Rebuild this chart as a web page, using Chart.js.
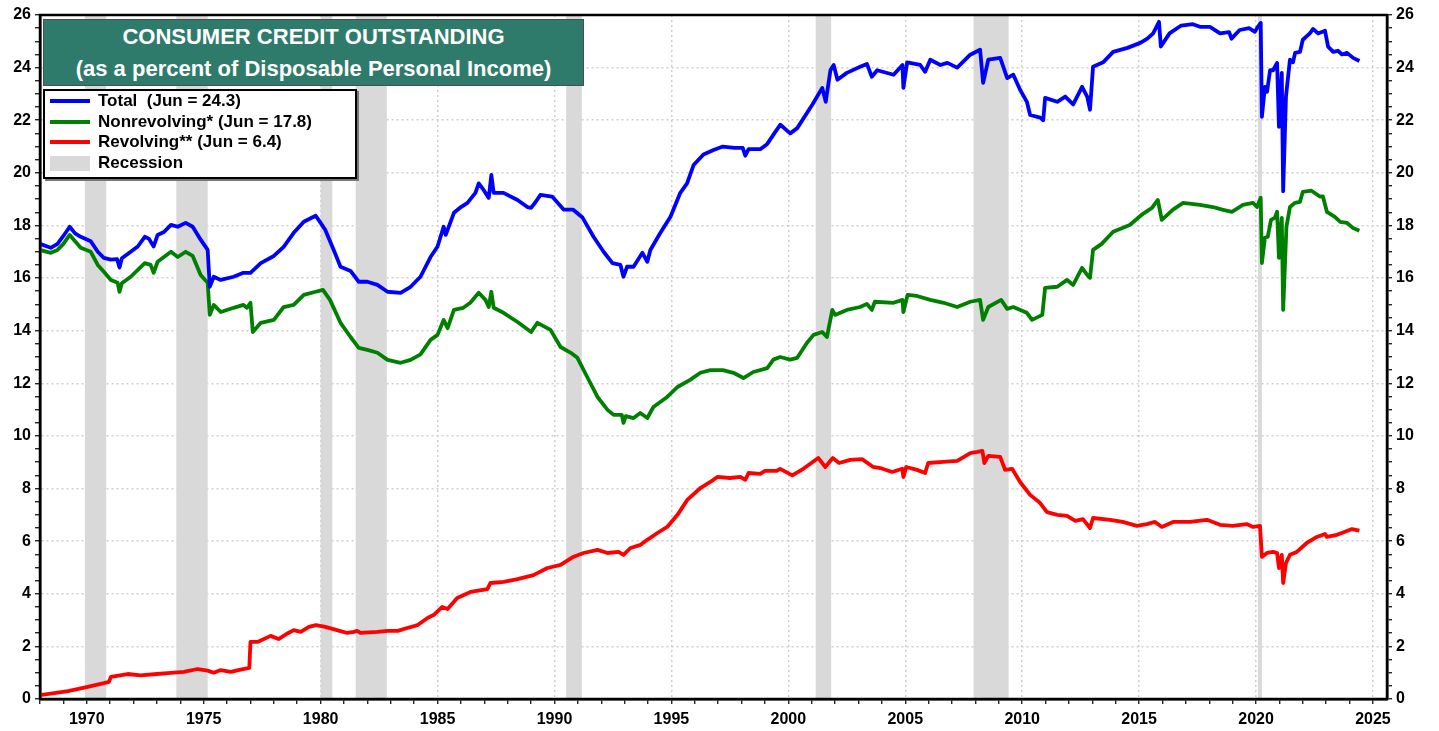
<!DOCTYPE html>
<html>
<head>
<meta charset="utf-8">
<script src="https://cdn.jsdelivr.net/npm/chart.js@4.4.1/dist/chart.umd.min.js"></script>
<style>
  html, body { margin:0; padding:0; background:#fff; }
  #wrap { position:relative; width:1439px; height:731px; font-family:"Liberation Sans", Arial, sans-serif; }
  #titleBox { position:absolute; left:43px; top:19px; width:539px; height:65px; background:#2e7b6c;
    border:1px solid #4d4d4d; color:#fff; font-weight:bold; font-size:22px; text-align:center; }
  #titleBox div { height:32px; line-height:34px; }
  #legendBox { position:absolute; left:43px; top:89px; width:310px; height:86px; background:#fff;
    border:2px solid #000; box-shadow:2px 2px 0 #777; font-weight:bold; font-size:17px; color:#000; }
  .row { position:relative; height:20.5px; line-height:20.5px; padding-left:53px; white-space:pre; }
  .row .sw { position:absolute; left:5px; top:8px; width:40px; height:4px; }
  .row .sw.rec { top:3px; height:15px; }
</style>
</head>
<body>
<div id="wrap">
  <canvas id="myChart" width="1439" height="731"></canvas>
  <div id="titleBox">
    <div>CONSUMER CREDIT OUTSTANDING</div>
    <div>(as a percent of Disposable Personal Income)</div>
  </div>
  <div id="legendBox"></div>
</div>
<script>
// 총 소비자신용 (가처분소득 대비 %)
const totalYears = [1968.0,1968.46,1968.75,1969.0,1969.27,1969.5,1969.74,1970.17,1970.47,1970.73,1971.03,1971.3,1971.4,1971.5,1971.88,1972.18,1972.48,1972.65,1972.86,1973.03,1973.3,1973.6,1973.89,1974.23,1974.53,1974.87,1975.17,1975.26,1975.43,1975.73,1976.28,1976.7,1977.0,1977.44,1978.0,1978.42,1978.85,1979.28,1979.79,1980.0,1980.2,1980.56,1980.85,1981.28,1981.63,1982.0,1982.43,1982.86,1983.42,1983.85,1984.27,1984.7,1985.0,1985.26,1985.35,1985.7,1986.0,1986.28,1986.62,1986.76,1986.97,1987.19,1987.3,1987.4,1987.82,1988.42,1988.84,1989.0,1989.2,1989.4,1989.9,1990.4,1990.8,1991.2,1991.67,1992.1,1992.48,1992.82,1992.95,1993.1,1993.38,1993.76,1993.97,1994.1,1994.53,1994.96,1995.38,1995.67,1995.95,1996.37,1996.8,1997.2,1997.7,1998.05,1998.16,1998.3,1998.8,1999.1,1999.4,1999.66,2000.08,2000.38,2001.03,2001.45,2001.6,2001.8,2001.94,2002.1,2002.5,2003.07,2003.36,2003.57,2003.8,2004.5,2004.88,2004.92,2005.08,2005.64,2005.85,2006.07,2006.5,2006.8,2007.22,2007.78,2008.2,2008.33,2008.55,2009.06,2009.36,2009.62,2009.91,2010.2,2010.34,2010.77,2010.9,2010.98,2011.5,2011.84,2012.18,2012.56,2012.78,2012.9,2013.03,2013.46,2013.89,2014.5,2015.05,2015.35,2015.6,2015.85,2015.93,2016.3,2016.8,2017.3,2017.6,2018.03,2018.46,2018.85,2018.95,2019.3,2019.7,2019.95,2020.04,2020.2,2020.25,2020.38,2020.47,2020.6,2020.73,2020.9,2020.98,2021.1,2021.16,2021.28,2021.45,2021.58,2021.67,2021.88,2022.0,2022.3,2022.44,2022.65,2022.95,2023.08,2023.3,2023.5,2023.68,2023.89,2024.15,2024.42];
const totalVals = [17.3,17.15,17.3,17.6,17.95,17.7,17.57,17.4,17.0,16.77,16.7,16.72,16.4,16.75,17.0,17.2,17.57,17.5,17.2,17.64,17.75,18.02,17.95,18.1,17.95,17.46,17.07,15.67,16.05,15.93,16.05,16.2,16.2,16.57,16.84,17.19,17.72,18.14,18.37,18.1,17.83,17.07,16.43,16.27,15.86,15.86,15.74,15.48,15.44,15.67,16.05,16.8,17.2,17.95,17.64,18.48,18.7,18.86,19.24,19.6,19.35,19.05,19.92,19.24,19.24,18.97,18.7,18.67,18.9,19.16,19.1,18.6,18.6,18.3,17.57,17.0,16.57,16.5,16.05,16.43,16.43,16.96,16.62,17.07,17.72,18.33,19.24,19.6,20.3,20.7,20.87,21.0,20.95,20.95,20.65,20.9,20.9,21.1,21.5,21.83,21.5,21.7,22.6,23.23,22.7,23.9,24.1,23.54,23.8,24.03,24.14,23.65,23.9,23.73,24.1,23.23,24.2,24.1,23.84,24.3,24.1,24.18,24.0,24.49,24.68,23.42,24.3,24.37,23.6,23.73,23.16,22.7,22.2,22.1,22.0,22.85,22.7,22.9,22.6,23.27,22.9,22.4,24.03,24.2,24.6,24.75,24.94,25.1,25.3,25.74,24.8,25.3,25.6,25.65,25.55,25.55,25.3,25.35,25.1,25.43,25.5,25.36,25.5,25.7,22.13,23.27,23.08,23.9,23.9,24.18,21.75,23.8,19.3,22.9,24.3,24.2,24.56,24.6,25.06,25.3,25.47,25.3,25.4,24.8,24.6,24.64,24.5,24.56,24.37,24.25];

// 비회전 신용
const nonrevYears = [1968.0,1968.46,1968.75,1969.0,1969.27,1969.74,1970.17,1970.47,1970.73,1971.03,1971.32,1971.4,1971.5,1971.88,1972.48,1972.73,1972.86,1973.03,1973.6,1973.89,1974.23,1974.53,1974.87,1975.17,1975.26,1975.43,1975.73,1976.28,1976.7,1976.85,1977.0,1977.1,1977.44,1978.0,1978.42,1978.85,1979.28,1979.79,1980.1,1980.4,1980.85,1981.28,1981.63,1982.0,1982.43,1982.86,1983.42,1983.85,1984.27,1984.7,1985.0,1985.26,1985.43,1985.7,1986.1,1986.4,1986.76,1987.05,1987.19,1987.3,1987.4,1987.82,1988.42,1989.0,1989.27,1989.83,1990.26,1990.7,1990.98,1991.4,1991.84,1992.27,1992.53,1992.88,1992.95,1993.05,1993.38,1993.67,1993.97,1994.23,1994.82,1995.26,1995.8,1996.24,1996.67,1997.2,1997.65,1998.08,1998.5,1999.1,1999.36,1999.65,2000.08,2000.38,2000.8,2001.08,2001.45,2001.65,2001.88,2002.0,2002.5,2003.07,2003.36,2003.57,2003.7,2004.5,2004.88,2004.92,2005.1,2005.5,2006.07,2006.64,2007.22,2007.78,2008.2,2008.33,2008.55,2009.1,2009.36,2009.62,2010.2,2010.42,2010.86,2010.98,2011.5,2011.92,2012.18,2012.56,2012.78,2012.9,2013.03,2013.4,2013.89,2014.6,2015.1,2015.55,2015.8,2015.97,2016.45,2016.88,2017.6,2018.16,2018.55,2018.97,2019.44,2019.87,2020.04,2020.2,2020.25,2020.38,2020.5,2020.64,2020.8,2020.9,2020.98,2021.1,2021.16,2021.3,2021.45,2021.67,2021.88,2022.0,2022.37,2022.73,2022.86,2023.03,2023.37,2023.6,2023.89,2024.15,2024.42];
const nonrevVals = [17.07,16.96,17.07,17.3,17.64,17.15,17.0,16.5,16.24,15.93,15.82,15.48,15.8,16.05,16.57,16.5,16.2,16.62,17.0,16.8,17.0,16.84,16.12,15.82,14.6,14.98,14.71,14.87,14.98,14.87,15.06,13.95,14.3,14.41,14.9,14.98,15.36,15.48,15.55,15.17,14.3,13.76,13.35,13.27,13.16,12.89,12.78,12.89,13.1,13.65,13.84,14.41,14.1,14.79,14.87,15.06,15.44,15.17,14.9,15.48,14.87,14.68,14.33,13.95,14.3,14.03,13.38,13.16,12.97,12.24,11.48,10.99,10.8,10.8,10.5,10.75,10.68,10.87,10.68,11.1,11.48,11.86,12.13,12.4,12.5,12.5,12.4,12.2,12.43,12.58,12.9,13.0,12.9,12.97,13.54,13.84,13.95,13.76,14.79,14.6,14.79,14.9,15.02,14.79,15.1,15.06,15.17,14.71,15.36,15.32,15.17,15.06,14.9,15.1,15.17,14.41,14.9,15.17,14.83,14.9,14.68,14.41,14.6,15.63,15.67,15.93,15.74,16.39,16.12,16.01,17.07,17.3,17.76,18.02,18.4,18.67,18.97,18.21,18.6,18.86,18.78,18.7,18.6,18.52,18.78,18.86,18.7,19.05,16.57,17.53,17.57,18.21,18.29,18.52,16.77,18.29,14.79,17.95,18.7,18.86,18.9,19.28,19.32,19.1,19.1,18.52,18.33,18.14,18.1,17.9,17.8];

// 회전 신용
const revYears = [1968.0,1969.2,1970.04,1970.73,1970.95,1971.03,1971.75,1972.3,1973.0,1973.6,1974.15,1974.74,1975.17,1975.43,1975.73,1976.15,1976.58,1976.95,1977.0,1977.3,1977.86,1978.2,1978.6,1978.85,1979.15,1979.5,1979.8,1980.2,1980.7,1981.14,1981.42,1981.56,1981.7,1982.43,1982.86,1983.3,1983.7,1984.15,1984.57,1984.83,1985.2,1985.43,1985.84,1986.41,1987.13,1987.26,1987.83,1988.42,1989.1,1989.7,1990.26,1990.8,1991.24,1991.84,1992.27,1992.74,1992.95,1993.25,1993.68,1993.97,1994.4,1994.82,1995.26,1995.68,1996.24,1996.8,1996.96,1997.5,1997.95,1998.16,1998.3,1998.8,1999.0,1999.5,1999.65,2000.17,2000.64,2001.28,2001.58,2001.9,2002.17,2002.65,2003.15,2003.63,2003.93,2004.44,2004.87,2004.92,2005.04,2005.5,2005.85,2005.98,2006.62,2007.22,2007.78,2008.08,2008.3,2008.38,2008.55,2009.06,2009.27,2009.57,2009.91,2010.34,2010.77,2011.06,2011.5,2011.92,2012.27,2012.6,2012.9,2013.03,2013.76,2014.3,2014.9,2015.33,2015.68,2015.97,2016.45,2017.18,2017.9,2018.46,2019.0,2019.6,2019.87,2020.17,2020.25,2020.47,2020.73,2020.9,2020.98,2021.1,2021.16,2021.28,2021.45,2021.74,2022.17,2022.6,2022.95,2023.03,2023.46,2023.89,2024.1,2024.42];
const revVals = [0.15,0.3,0.46,0.6,0.65,0.84,0.95,0.9,0.95,0.99,1.03,1.14,1.08,1.0,1.1,1.03,1.12,1.18,2.17,2.17,2.4,2.28,2.5,2.62,2.55,2.74,2.81,2.74,2.62,2.51,2.55,2.59,2.51,2.55,2.59,2.59,2.7,2.81,3.08,3.19,3.5,3.42,3.84,4.07,4.18,4.41,4.45,4.56,4.71,4.98,5.1,5.4,5.55,5.67,5.55,5.59,5.48,5.74,5.86,6.05,6.31,6.54,7.0,7.57,8.02,8.33,8.44,8.4,8.44,8.33,8.59,8.56,8.67,8.67,8.75,8.5,8.75,9.16,8.82,9.16,8.97,9.09,9.12,8.82,8.78,8.63,8.75,8.44,8.82,8.71,8.59,8.97,9.01,9.05,9.35,9.39,9.43,8.97,9.24,9.2,8.71,8.75,8.25,7.76,7.45,7.1,7.0,6.96,6.77,6.84,6.5,6.88,6.81,6.73,6.58,6.65,6.73,6.54,6.73,6.73,6.81,6.62,6.58,6.65,6.54,6.58,5.4,5.55,5.59,5.55,4.98,5.48,4.41,5.17,5.48,5.59,5.93,6.16,6.27,6.16,6.24,6.39,6.46,6.4];

// 경기침체 구간 (시작, 끝)
const recStart = [1969.92, 1973.83, 1980.0, 1981.5, 1990.5, 2001.17, 2007.92, 2020.08];
const recEnd   = [1970.83, 1975.17, 1980.5, 1982.83, 1991.17, 2001.83, 2009.42, 2020.25];

const seriesLabels = ['Total  (Jun = 24.3)', 'Nonrevolving* (Jun = 17.8)', 'Revolving** (Jun = 6.4)'];
const seriesColors = ['#0000ff', '#008000', '#ff0000'];

const FONT = '"Liberation Sans", Arial, sans-serif';
const toPts = (xs, ys) => xs.map((x, i) => ({x: x, y: ys[i]}));
const isEven = v => Math.abs(v - Math.round(v / 2) * 2) < 1e-6;

// 경기침체 음영
const recessionBands = {
  id: 'recessionBands',
  beforeDatasetsDraw(chart) {
    const {ctx, chartArea: {top, bottom}, scales: {x}} = chart;
    ctx.save();
    ctx.fillStyle = '#d9d9d9';
    for (let i = 0; i < recStart.length; i++) {
      const x1 = x.getPixelForValue(recStart[i]);
      const x2 = x.getPixelForValue(recEnd[i]);
      ctx.fillRect(x1, top, x2 - x1, bottom - top);
    }
    ctx.restore();
  }
};
// 바깥 테두리
const frameBox = {
  id: 'frameBox',
  afterDatasetsDraw(chart) {
    const {ctx, chartArea: {left, top, width, height}} = chart;
    ctx.save();
    ctx.strokeStyle = '#000';
    ctx.lineWidth = 2.5;
    ctx.strokeRect(left, top, width, height);
    ctx.restore();
  }
};

const tickFont = {family: FONT, size: 16, weight: 'bold'};
const yAxis = (pos, w) => ({
  type: 'linear', position: pos, min: 0, max: 26,
  afterFit(s) { s.width = w; },
  ticks: {stepSize: 0.5, autoSkip: false, color: '#000', font: tickFont, padding: 4,
    callback: v => isEven(v) ? String(Math.round(v)) : ''},
  grid: {color: c => (c.tick && isEven(c.tick.value)) ? '#cfcfcf' : 'rgba(0,0,0,0)',
    lineWidth: 1.5, tickColor: '#000', tickLength: 5, tickWidth: 1.2,
    drawOnChartArea: pos === 'left'},
  border: {color: '#000', width: 2.5, dash: [2, 3]}
});

const configLine = {
  type: 'line',
  data: {
    datasets: [
      {label: seriesLabels[0], data: toPts(totalYears, totalVals), borderColor: seriesColors[0]},
      {label: seriesLabels[1], data: toPts(nonrevYears, nonrevVals), borderColor: seriesColors[1]},
      {label: seriesLabels[2], data: toPts(revYears, revVals), borderColor: seriesColors[2]}
    ].map(d => Object.assign(d, {borderWidth: 3.8, pointRadius: 0, tension: 0, fill: false,
      borderJoinStyle: 'round', yAxisID: 'y'}))
  },
  options: {
    responsive: false,
    animation: false,
    devicePixelRatio: 1,
    layout: {padding: {top: 15, left: 0, right: 0, bottom: 0}},
    plugins: {legend: {display: false}, tooltip: {enabled: false}},
    scales: {
      x: {
        type: 'linear', min: 1968, max: 2025.6,
        afterFit(s) { s.height = 32; },
        ticks: {stepSize: 1, autoSkip: false, includeBounds: false, maxRotation: 0, padding: 6,
          color: '#000', font: tickFont, callback: v => (v % 5 === 0) ? String(v) : ''},
        grid: {color: c => (c.tick && c.tick.value % 5 === 0) ? '#cfcfcf' : 'rgba(0,0,0,0)',
          lineWidth: 1.5, tickColor: '#000', tickLength: 5, tickWidth: 1.2},
        border: {color: '#000', width: 2.5, dash: [2, 3]}
      },
      y: yAxis('left', 40),
      y2: yAxis('right', 52)
    }
  },
  plugins: [recessionBands, frameBox]
};

const myChart = new Chart(document.getElementById('myChart'), configLine);

// 범례
const legendBox = document.getElementById('legendBox');
seriesLabels.forEach((lab, i) => {
  legendBox.insertAdjacentHTML('beforeend',
    '<div class="row"><span class="sw" style="background:' + seriesColors[i] + '"></span>' + lab + '</div>');
});
legendBox.insertAdjacentHTML('beforeend',
  '<div class="row"><span class="sw rec" style="background:#d9d9d9"></span>Recession</div>');
</script>
</body>
</html>
